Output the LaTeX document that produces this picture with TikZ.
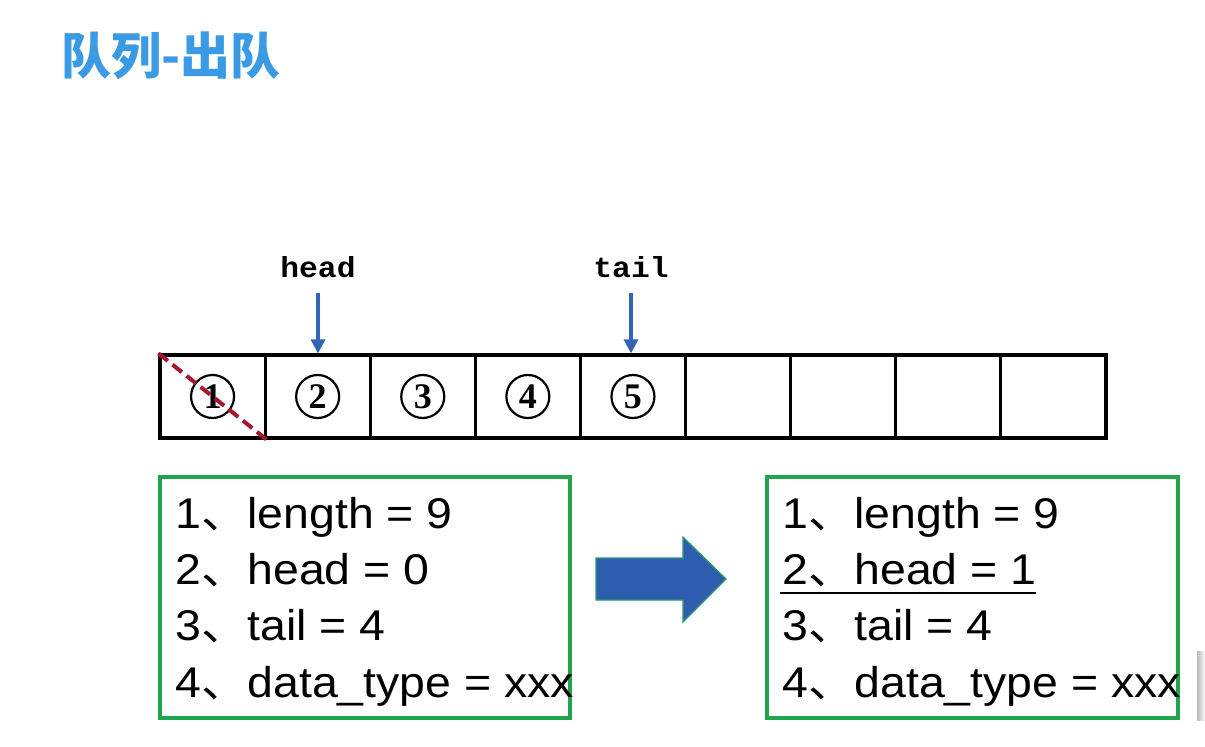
\documentclass[tikz,border=0pt]{standalone}
\usepackage{fontspec}
\usepackage{graphicx}
\setmainfont{Liberation Sans}
\newfontfamily\cjk{Noto Sans CJK SC}
\newfontfamily\boxfont{Liberation Sans}
\newfontfamily\monob{Liberation Mono}
\newfontfamily\serifb{Liberation Serif}
\usetikzlibrary{arrows.meta}
\definecolor{titleblue}{HTML}{3A9AE3}
\definecolor{ptrblue}{HTML}{3464B4}
\definecolor{boxgreen}{HTML}{1FA64C}
\definecolor{dashred}{HTML}{A3172F}
\definecolor{bigblue}{HTML}{2E5DB0}
\definecolor{bigedge}{HTML}{2A9D72}
\newcommand{\wide}[1]{\scalebox{1.08}[1]{#1}}
\newcommand{\dun}{{\cjk 、}}
\tikzset{
  cell/.style={draw, line width=3.2pt, minimum width=105.1pt, minimum height=83pt, inner sep=0pt},
  circnum/.style={circle, draw, line width=2.2pt, minimum size=43pt, inner sep=0pt,
    font=\serifb\bfseries\fontsize{36}{36}\selectfont},
  ptrlabel/.style={font=\monob\bfseries\fontsize{29}{29}\selectfont, inner sep=0pt, anchor=base},
  ptrarrow/.style={draw=ptrblue, line width=3.2pt, -{Triangle[length=14pt,width=14pt]}},
  infobox/.style={draw=boxgreen, line width=4pt, minimum width=410pt, minimum height=241pt, inner sep=0pt},
  infoline/.style={font=\boxfont\fontsize{43}{43}\selectfont, anchor=base west, inner sep=0pt},
  crossout/.style={draw=dashred, line width=4pt, dash pattern=on 12pt off 6pt},
}
\begin{document}
\begin{tikzpicture}[x=1pt,y=-1pt]
\useasboundingbox (0,0) rectangle (1205,747);
\fill[white] (0,0) rectangle (1205,747);

% title
\node[anchor=west, inner sep=0pt, text=titleblue,
  font=\cjk\bfseries\fontsize{50}{50}\selectfont] (title) at (61,56) {队列-出队};

% cells
\foreach \i in {0,...,8}{
  \node[cell] (c\i) at ({212.55+105.1*\i},396.5) {};
}
\foreach \i/\n in {0/1,1/2,2/3,3/4,4/5}{
  \node[circnum] (n\n) at (c\i) {\n};
}
\draw[crossout] (c0.north west) -- (c0.south east);

% pointers
\node[ptrlabel] (hl) at (318,277) {\wide{head}};
\node[ptrlabel] (tl) at (631,277) {\wide{tail}};
\coordinate (hs) at (318,293);
\coordinate (ts) at (631,293);
\draw[ptrarrow] (hs) -- (hs |- c1.north);
\draw[ptrarrow] (ts) -- (ts |- c4.north);

% info boxes
\node[infobox] (lb) at (365,597.5) {};
\node[infobox, minimum width=411pt] (rb) at (972.5,597.5) {};

\node[infoline] (l1) at (175,528) {\wide{1\dun length = 9}};
\node[infoline] (l2) at (175,584) {\wide{2\dun head = 0}};
\node[infoline] (l3) at (175,640) {\wide{3\dun tail = 4}};
\node[infoline] (l4) at (175,697) {\wide{4\dun data\_type = xxx}};

\node[infoline] (r1) at (782,528) {\wide{1\dun length = 9}};
\node[infoline] (r2) at (782,584) {\wide{2\dun head = 1}};
\node[infoline] (r3) at (782,640) {\wide{3\dun tail = 4}};
\node[infoline] (r4) at (782,697) {\wide{4\dun data\_type = xxx}};
\coordinate (u1) at (780,593);
\coordinate (u2) at (1036,593);
\draw[line width=2.6pt] (u1) -- (u2);

% big arrow
\filldraw[fill=bigblue, draw=bigedge, line width=1.2pt]
  (596,558) -- (683,558) -- (683,537) -- (726,579) -- (683,622) -- (683,600) -- (596,600) -- cycle;

% screen edge artefact
\shade[left color=gray!55, right color=white] (1197,651) rectangle (1205,720);
\end{tikzpicture}
\end{document}
